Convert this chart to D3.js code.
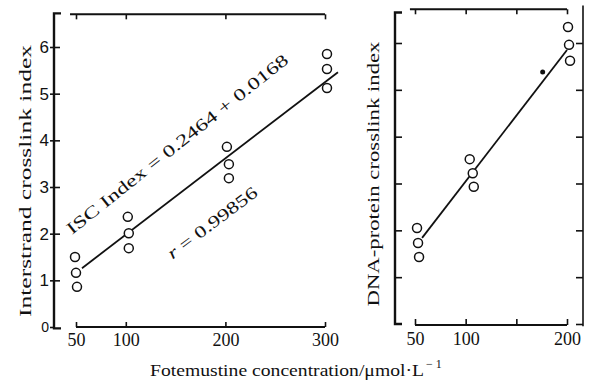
<!DOCTYPE html>
<html>
<head>
<meta charset="utf-8">
<title>Fotemustine crosslinks</title>
<script src="https://d3js.org/d3.v7.min.js"></script>
<style>
  body { margin: 0; background: #fff; }
  svg text { fill: #111; }
  .serif { font-family: 'Liberation Serif', 'DejaVu Serif', serif; }
  .sans { font-family: 'Liberation Sans', Arial, sans-serif; }
  .axis path.domain { display: none; }
  .axis line { stroke: #111; stroke-width: 1.6; }
</style>
</head>
<body>
<svg id="chart" width="591" height="389"></svg>
<script>
// left panel: interstrand crosslink index
const iscConc = [49, 50, 51, 102, 103, 103, 201.5, 203.5, 203.5, 302, 302, 302];
const iscIndex = [1.50, 1.16, 0.86, 2.36, 2.01, 1.69, 3.86, 3.49, 3.19, 5.85, 5.53, 5.12];
const iscFit = [[56, 1.26], [313, 5.46]];
const iscXTicks = [50, 100, 200, 300];
const iscYTicks = [0, 1, 2, 3, 4, 5, 6];

// right panel: DNA-protein crosslink index (no tick labels on y)
const dpcConc = [52, 53, 54, 104, 107, 108, 201, 202, 203];
const dpcIndex = [2.05, 1.73, 1.43, 3.52, 3.22, 2.93, 6.34, 5.96, 5.62];
const dpcFit = [[57, 1.84], [200, 5.85]];
const dpcDot = [[176, 5.38]];
const dpcXTicks = [50, 100, 150, 200];
const dpcYTicks = [0, 1, 2, 3, 4, 5, 6];

const svg = d3.select("#chart");

const xL = d3.scaleLinear().domain([50, 300]).range([76, 325]);
const yL = d3.scaleLinear().domain([0, 6]).range([327, 47]);
const xR = d3.scaleLinear().domain([50, 200]).range([415, 567]);
const yR = d3.scaleLinear().domain([0, 6]).range([324, 43]);

const line = d3.line();

function frameLine(g, pts, w) {
    g.append("path")
        .attr("d", line(pts))
        .attr("fill", "none")
        .attr("stroke", "#111")
        .attr("stroke-width", w);
}

// ---------- left panel ----------
const axL = xL(50) - 22; // y axis sits left of the first concentration
// y axis line with little foot and cap
frameLine(svg, [[axL + 7, yL(6.72)], [axL, yL(6.72)], [axL, yL(-0.03)], [axL + 7, yL(-0.03)]], 2.4);

svg.append("g").attr("class", "axis sans")
    .attr("transform", `translate(${axL},0)`)
    .call(d3.axisLeft(yL).tickValues(iscYTicks).tickSize(4).tickPadding(1).tickFormat(d3.format("d")))
    .selectAll("text").attr("font-size", (d) => d === 0 ? 14 : 17).attr("font-family", "'Liberation Sans', Arial, sans-serif");

svg.append("g").attr("class", "axis")
    .attr("transform", `translate(${axL},0)`)
    .call(d3.axisRight(yL).tickValues(iscYTicks.slice(1)).tickSize(6).tickFormat(""));

// bottom axis
frameLine(svg, [[xL(50), yL(0)], [xL(300), yL(0)]], 2);
svg.append("g").attr("class", "axis serif")
    .attr("transform", `translate(0,${yL(0)})`)
    .call(d3.axisBottom(xL).tickValues(iscXTicks).tickSize(-5).tickPadding(6))
    .selectAll("text").attr("font-size", 18).attr("font-family", "'Liberation Serif', serif");

// top frame
frameLine(svg, [[xL(44), yL(6.7)], [xL(300), yL(6.7)]], 2);
svg.append("g").attr("class", "axis")
    .attr("transform", `translate(0,${yL(6.7)})`)
    .call(d3.axisBottom(xL).tickValues(iscXTicks).tickSize(5).tickFormat(""));

// fit line then circles on top
frameLine(svg, iscFit.map(d => [xL(d[0]), yL(d[1])]), 1.8);

svg.append("g").selectAll("circle")
    .data(iscConc.map((c, i) => ({c, v: iscIndex[i]})))
    .join("circle")
    .attr("cx", d => xL(d.c))
    .attr("cy", d => yL(d.v))
    .attr("r", 4.5)
    .attr("fill", "#fff")
    .attr("stroke", "#111")
    .attr("stroke-width", 1.5);

// equation annotations
svg.append("text").attr("class", "serif")
    .attr("transform", `translate(${xL(46)},${yL(1.97)}) rotate(-38.5)`)
    .attr("font-size", 17)
    .attr("textLength", 278)
    .attr("lengthAdjust", "spacingAndGlyphs")
    .text("ISC Index = 0.2464 + 0.0168");

const rLab = svg.append("text").attr("class", "serif")
    .attr("transform", `translate(${xL(147)},${yL(1.44)}) rotate(-37)`)
    .attr("font-size", 17)
    .attr("textLength", 108)
    .attr("lengthAdjust", "spacingAndGlyphs");
rLab.append("tspan").attr("font-style", "italic").text("r");
rLab.append("tspan").text(" = 0.99856");

svg.append("text").attr("class", "serif")
    .attr("transform", `translate(31,181) rotate(-90)`)
    .attr("text-anchor", "middle")
    .attr("font-size", 17)
    .attr("textLength", 272)
    .attr("lengthAdjust", "spacingAndGlyphs")
    .text("Interstrand crosslink index");

// ---------- right panel ----------
const axR = xR(50) - 20;
frameLine(svg, [[axR + 7, yR(6.65)], [axR, yR(6.65)], [axR, yR(0)], [axR + 7, yR(0)]], 2.4);
svg.append("g").attr("class", "axis")
    .attr("transform", `translate(${axR},0)`)
    .call(d3.axisRight(yR).tickValues(dpcYTicks.slice(1)).tickSize(7).tickFormat(""));

// right frame
const rfx = xR(200) + 16;
frameLine(svg, [[rfx, yR(6.8)], [rfx, yR(-0.05)]], 1.6);
svg.append("g").attr("class", "axis")
    .attr("transform", `translate(${rfx},0)`)
    .call(d3.axisLeft(yR).tickValues(dpcYTicks).tickSize(7).tickFormat(""));

// bottom axis
frameLine(svg, [[xR(50), yR(0) + 1], [xR(200), yR(0) + 1]], 2);
svg.append("g").attr("class", "axis")
    .attr("transform", `translate(0,${yR(0) + 1})`)
    .call(d3.axisBottom(xR).tickValues(dpcXTicks).tickSize(-6).tickPadding(7)
        .tickFormat(d => d === 150 ? "" : d))
    .selectAll("text").attr("font-size", 18).attr("font-family", "'Liberation Serif', serif");

// top frame
frameLine(svg, [[xR(45), yR(6.72)], [xR(200), yR(6.72)]], 2);
svg.append("g").attr("class", "axis")
    .attr("transform", `translate(0,${yR(6.72)})`)
    .call(d3.axisBottom(xR).tickValues(dpcXTicks).tickSize(5).tickFormat(""));

frameLine(svg, dpcFit.map(d => [xR(d[0]), yR(d[1])]), 1.8);

svg.append("g").selectAll("circle.dot")
    .data(dpcDot)
    .join("circle")
    .attr("cx", d => xR(d[0]))
    .attr("cy", d => yR(d[1]))
    .attr("r", 2.5)
    .attr("fill", "#111");

svg.append("g").selectAll("circle")
    .data(dpcConc.map((c, i) => ({c, v: dpcIndex[i]})))
    .join("circle")
    .attr("cx", d => xR(d.c))
    .attr("cy", d => yR(d.v))
    .attr("r", 4.5)
    .attr("fill", "#fff")
    .attr("stroke", "#111")
    .attr("stroke-width", 1.5);

svg.append("text").attr("class", "serif")
    .attr("transform", `translate(379,174) rotate(-90)`)
    .attr("text-anchor", "middle")
    .attr("font-size", 17)
    .attr("textLength", 265)
    .attr("lengthAdjust", "spacingAndGlyphs")
    .text("DNA-protein crosslink index");

// shared x title
svg.append("text").attr("class", "serif")
    .attr("x", 150).attr("y", 376)
    .attr("font-size", 17)
    .attr("textLength", 274)
    .attr("lengthAdjust", "spacingAndGlyphs")
    .text("Fotemustine concentration/μmol·L");
const xtEnd = 150 + 274;
svg.append("text").attr("class", "serif")
    .attr("x", xtEnd + 2).attr("y", 368)
    .attr("font-size", 12)
    .text("− 1");
</script>
</body>
</html>
